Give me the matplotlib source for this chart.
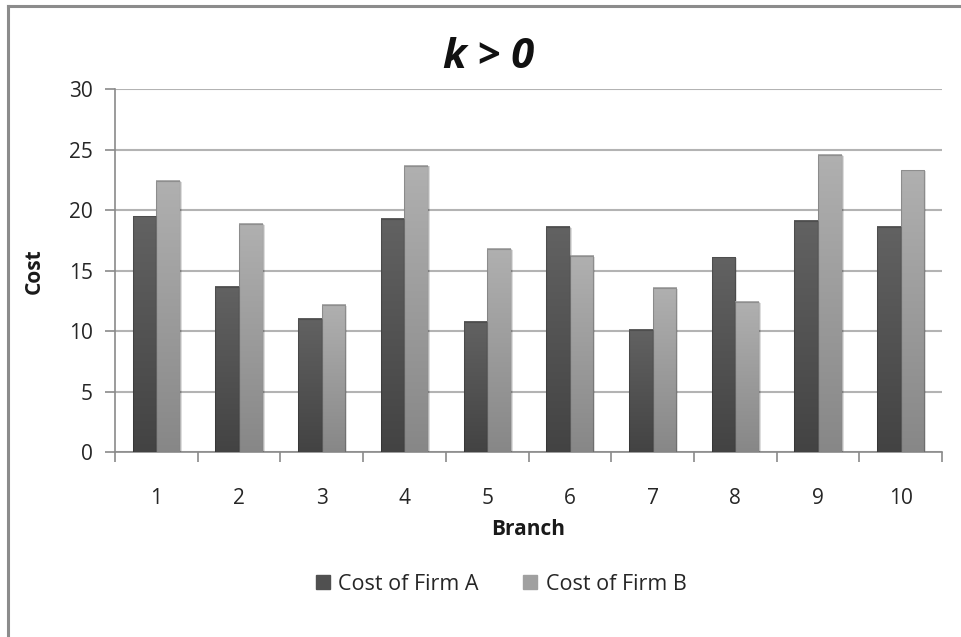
import numpy as np
import matplotlib
matplotlib.use("Agg")
import matplotlib.pyplot as plt
from matplotlib.lines import Line2D
from matplotlib.colors import LinearSegmentedColormap

# Data
branches = ["1", "2", "3", "4", "5", "6", "7", "8", "9", "10"]
cost_firm_a = [19.5, 13.7, 11.0, 19.3, 10.8, 18.6, 10.1, 16.1, 19.1, 18.6]
cost_firm_b = [22.4, 18.9, 12.2, 23.7, 16.8, 16.2, 13.6, 12.4, 24.6, 23.3]
series_labels = ["Cost of Firm A", "Cost of Firm B"]
y_ticks = [0, 5, 10, 15, 20, 25, 30]

FONT = ["Open Sans", "DejaVu Sans"]
plt.rcParams["font.family"] = FONT
FS = 15

fig = plt.figure(figsize=(9.62, 6.37), dpi=100)
fig.patch.set_facecolor("white")

# Outer frame (top and left edges)
fig.add_artist(Line2D([8 / 962, 8 / 962], [0, 1 - 6 / 637], transform=fig.transFigure,
                      color="#8c8c8c", lw=2.2, zorder=0))
fig.add_artist(Line2D([8 / 962, 1], [1 - 6 / 637, 1 - 6 / 637], transform=fig.transFigure,
                      color="#8c8c8c", lw=2.2, zorder=0))

ax = fig.add_axes([115 / 962, 1 - 452.3 / 637, (942 - 115) / 962, (452.3 - 89.3) / 637])

n = len(branches)
x = np.arange(n)
w = 1 / 3.5

grad_a = LinearSegmentedColormap.from_list("ga", ["#434343", "#626262"])
grad_b = LinearSegmentedColormap.from_list("gb", ["#878787", "#b0b0b0"])

bars_a = ax.bar(x - w / 2, cost_firm_a, width=w, color="none", zorder=3)
bars_b = ax.bar(x + w / 2, cost_firm_b, width=w, color="none", zorder=3)

grad = np.linspace(0, 1, 256).reshape(-1, 1)
for bars, cmap in ((bars_a, grad_a), (bars_b, grad_b)):
    for b in bars:
        x0, wd, h = b.get_x(), b.get_width(), b.get_height()
        # soft drop shadow
        ax.add_patch(plt.Rectangle((x0 + 0.012, 0), wd + 0.012, h - 0.08,
                                   color="#000000", alpha=0.12, lw=0, zorder=2))
        ax.imshow(grad, extent=(x0, x0 + wd, 0, h), origin="lower", cmap=cmap,
                  aspect="auto", zorder=3, interpolation="bilinear")
        ax.add_patch(plt.Rectangle((x0, 0), wd, h, fill=False,
                                   edgecolor="#00000030", lw=0.8, zorder=4))

ax.set_xlim(-0.5, n - 0.5)
ax.set_ylim(0, 30)

# Gridlines
ax.set_yticks(y_ticks)
ax.yaxis.grid(True, color="#b3b3b3", lw=1.5, zorder=1)
ax.set_axisbelow(True)

# Axis spines
for s in ("top", "right"):
    ax.spines[s].set_visible(False)
for s in ("left", "bottom"):
    ax.spines[s].set_color("#8a8a8a")
    ax.spines[s].set_linewidth(1.2)

ax.tick_params(axis="y", length=7, width=1.2, color="#8a8a8a", labelsize=FS,
               labelcolor="#262626", pad=9)
ax.set_yticklabels([str(t) for t in y_ticks])

# Category ticks sit between branches; labels centered on branches
ax.set_xticks(np.arange(-0.5, n, 1.0))
ax.set_xticklabels([])
ax.tick_params(axis="x", length=7, width=1.2, color="#8a8a8a")
ax.set_xticks(x, minor=True)
ax.set_xticklabels(branches, minor=True)
ax.tick_params(axis="x", which="minor", length=0, labelsize=FS, labelcolor="#262626", pad=26)

ax.set_xlabel("Branch", fontsize=FS, fontweight="bold", color="#1a1a1a", labelpad=7)
ax.set_ylabel("Cost", fontsize=FS, fontweight="bold", color="#1a1a1a", labelpad=17)

fig.text(489 / 962, 1 - 57 / 637, "k > 0", ha="center", va="center",
         fontsize=30, fontweight="bold", fontstyle="italic", color="#111111")

handles = [Line2D([], [], marker="s", ls="none", markersize=10, color="#505050"),
           Line2D([], [], marker="s", ls="none", markersize=10, color="#a0a0a0")]
fig.legend(handles, series_labels, loc="center", bbox_to_anchor=(494 / 962, 1 - 584 / 637),
           ncol=2, frameon=False, fontsize=15.5, handletextpad=-0.3, columnspacing=1.4,
           labelcolor="#262626")

fig.savefig("out.png", dpi=100)
